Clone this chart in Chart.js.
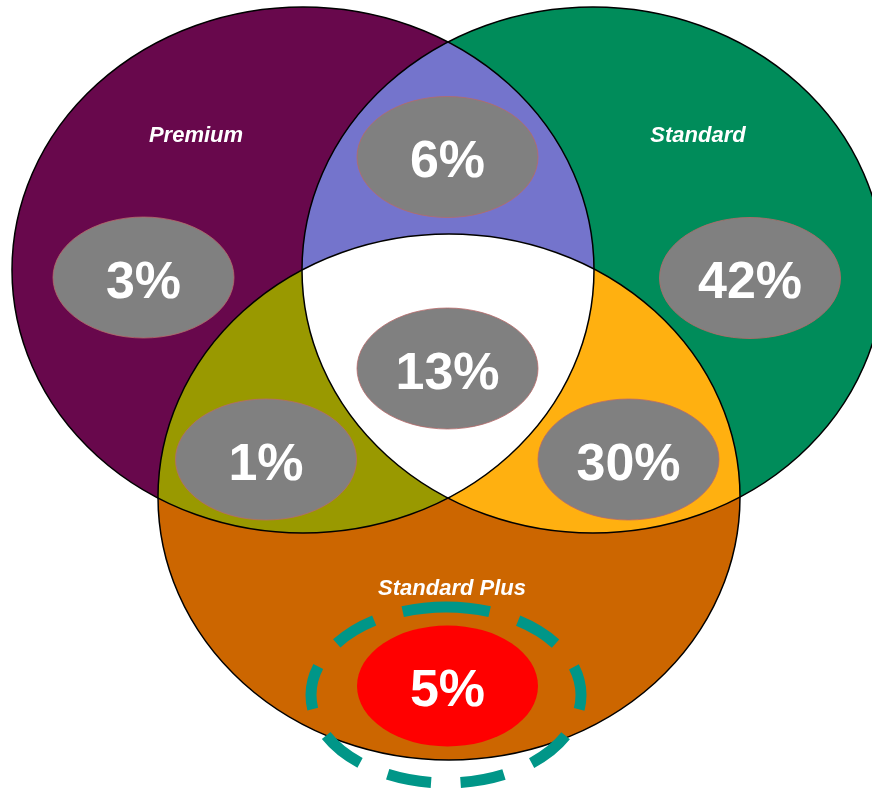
<!DOCTYPE html>
<html>
<head>
<meta charset="utf-8">
<script src="https://cdn.jsdelivr.net/npm/chart.js@4.4.1/dist/chart.umd.min.js"></script>
<style>
    html, body { margin: 0; padding: 0; background: #ffffff; }
    #venn { display: block; }
</style>
</head>
<body>
<canvas id="venn" width="872" height="789"></canvas>
<script>
// sets and regions of the diagram
const setNames = ['Premium', 'Standard', 'Standard Plus'];
const regionNames = ['Premium only', 'Premium & Standard', 'Standard only',
    'Premium & Standard Plus', 'All three', 'Standard & Standard Plus', 'Standard Plus only'];
const regionValues = [3, 6, 42, 1, 13, 30, 5];

// layout (data units of the x / y scales)
const setCircles = [
    {cx: 303, cy: 270, rx: 291, ry: 263, color: '#68084C'},
    {cx: 593, cy: 270, rx: 291, ry: 263, color: '#008C5A'},
    {cx: 449, cy: 497, rx: 291, ry: 263, color: '#CC6600'},
];
const setLabelPos = [{x: 196, y: 142}, {x: 698, y: 142}, {x: 452, y: 595}];
const regionPos = [
    {x: 143.5, y: 277.5}, {x: 447.5, y: 157}, {x: 750, y: 278},
    {x: 266, y: 459.5}, {x: 447.5, y: 368.5}, {x: 628.5, y: 459.5}, {x: 447.5, y: 686},
];
const bubbleColors = ['#808080', '#808080', '#808080', '#808080', '#808080', '#808080', '#FF0000'];
const overlapColors = {ps: '#7474CC', pp: '#999900', sp: '#FFB010', all: '#FFFFFF'};
const highlight = {cx: 446, cy: 695, rx: 135, ry: 88};

function ellipsePath(ctx, chart, c, start = 0) {
    const x = chart.scales.x, y = chart.scales.y;
    const px = x.getPixelForValue(c.cx), py = y.getPixelForValue(c.cy);
    const rx = Math.abs(x.getPixelForValue(c.cx + c.rx) - px);
    const ry = Math.abs(y.getPixelForValue(c.cy + c.ry) - py);
    ctx.beginPath();
    ctx.ellipse(px, py, rx, ry, 0, start, start + Math.PI * 2);
}

function fillClipped(ctx, chart, clips, shape, color) {
    ctx.save();
    clips.forEach(c => {
        ellipsePath(ctx, chart, c);
        ctx.clip();
    });
    ellipsePath(ctx, chart, shape);
    ctx.fillStyle = color;
    ctx.fill();
    ctx.restore();
}

const vennPlugin = {
    id: 'venn',
    beforeDatasetsDraw(chart) {
        const ctx = chart.ctx;
        const [p, s, sp] = setCircles;
        setCircles.forEach(c => fillClipped(ctx, chart, [], c, c.color));
        fillClipped(ctx, chart, [p], s, overlapColors.ps);
        fillClipped(ctx, chart, [p], sp, overlapColors.pp);
        fillClipped(ctx, chart, [s], sp, overlapColors.sp);
        fillClipped(ctx, chart, [p, s], sp, overlapColors.all);

        ctx.save();
        ctx.strokeStyle = '#000000';
        ctx.lineWidth = 1.5;
        setCircles.forEach(c => {
            ellipsePath(ctx, chart, c);
            ctx.stroke();
        });
        ctx.restore();
    },
    afterDatasetsDraw(chart) {
        const ctx = chart.ctx;
        const meta = chart.getDatasetMeta(0);
        ctx.save();
        meta.data.forEach((pt, i) => {
            ellipsePath(ctx, chart, {cx: regionPos[i].x, cy: regionPos[i].y, rx: 90.5, ry: 60.5});
            ctx.fillStyle = bubbleColors[i];
            ctx.fill();
            if (bubbleColors[i] === '#808080') {
                ctx.strokeStyle = '#B86A6A';
                ctx.lineWidth = 0.8;
                ctx.stroke();
            }
            ctx.fillStyle = '#ffffff';
            ctx.font = 'bold 52px "Liberation Sans", Arial, sans-serif';
            ctx.textAlign = 'center';
            ctx.textBaseline = 'alphabetic';
            ctx.fillText(regionValues[i] + '%', pt.x, pt.y + 20);
        });

        // set names
        ctx.font = 'italic bold 22px "Liberation Sans", Arial, sans-serif';
        setNames.forEach((name, i) => {
            const px = chart.scales.x.getPixelForValue(setLabelPos[i].x);
            const py = chart.scales.y.getPixelForValue(setLabelPos[i].y);
            ctx.fillText(name, px, py);
        });

        // dashed highlight around the Standard Plus only value
        ellipsePath(ctx, chart, highlight, -Math.PI / 2);
        ctx.setLineDash([44, 29.8]);
        ctx.lineWidth = 11;
        ctx.strokeStyle = '#009688';
        ctx.stroke();
        ctx.restore();
    }
};

new Chart(document.getElementById('venn'), {
    type: 'scatter',
    data: {
        labels: regionNames,
        datasets: [{
            data: regionPos.map((p, i) => ({x: p.x, y: p.y, v: regionValues[i]})),
            pointRadius: 0,
            pointHoverRadius: 0,
        }]
    },
    options: {
        responsive: false,
        animation: false,
        devicePixelRatio: 1,
        layout: {padding: 0},
        plugins: {
            legend: {display: false},
            tooltip: {enabled: false},
        },
        scales: {
            x: {type: 'linear', min: 0, max: 872, display: false},
            y: {type: 'linear', min: 0, max: 789, reverse: true, display: false},
        },
    },
    plugins: [vennPlugin]
});
</script>
</body>
</html>
